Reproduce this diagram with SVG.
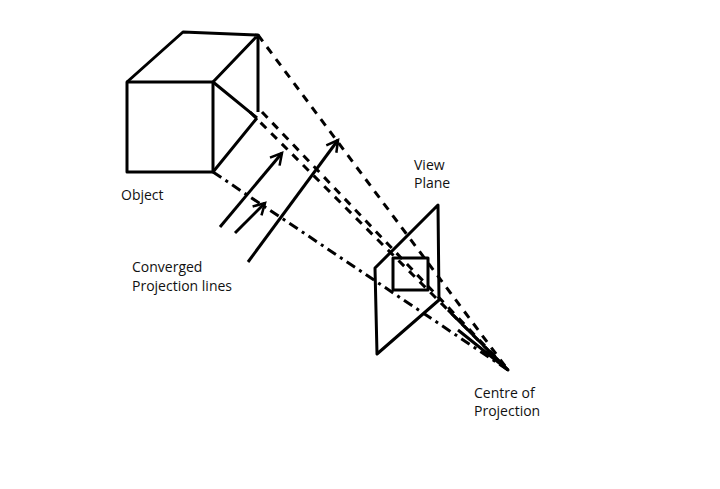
<svg xmlns="http://www.w3.org/2000/svg" width="720" height="489" viewBox="0 0 720 489">
<defs>
<style>
.s{stroke:#000;stroke-width:3;fill:none;stroke-linejoin:round}
.d{stroke:#000;stroke-width:3;fill:none;stroke-dasharray:8 7}
.dd{stroke:#000;stroke-width:3;fill:none;stroke-dasharray:10 5 3 5}
text{font-family:"Open Sans","Liberation Sans",sans-serif;font-size:14px;fill:#111}
</style>
<marker id="a" viewBox="0 0 12 12" refX="10" refY="6" markerWidth="5" markerHeight="5" orient="auto"><path d="M1,1 L10,6 L1,11" fill="none" stroke="#000" stroke-width="2"/></marker>
</defs>
<rect width="720" height="489" fill="#fff"/>
<g id="object">
<rect x="127" y="82" width="86" height="90" class="s"/>
<path class="s" d="M127,82 L183,32 L258,35 L213,82 M258,35 L258,112 M213,82 L257,118 M213,172 L257,118"/>
<text x="121" y="200">Object</text>
</g>
<g id="viewplane">
<path class="s" d="M438,205 L439,300 L377,354 L375,268 Z"/>
<rect x="393" y="258" width="35" height="32" class="s"/>
<text x="414" y="170">View</text>
<text x="414" y="188">Plane</text>
</g>
<g id="centre">
<text x="474" y="398">Centre of</text>
<text x="474" y="416">Projection</text>
</g>
<g id="connectors">
<path class="d" d="M258,35 L508,370"/>
<path class="dd" d="M213,172 L508,370"/>
<path class="d" d="M250,112 L508,370 M262,112 L508,370"/>
<path class="s" d="M448,310 L508,370 L458,330" stroke-width="2.5"/>
<path class="s" d="M220,227 L282,153" marker-end="url(#a)"/>
<path class="s" d="M235,233 L265,203" marker-end="url(#a)"/>
<path class="s" d="M248,262 L338,140" marker-end="url(#a)"/>
<text x="132" y="272">Converged</text>
<text x="132" y="291">Projection lines</text>
</g>
</svg>
